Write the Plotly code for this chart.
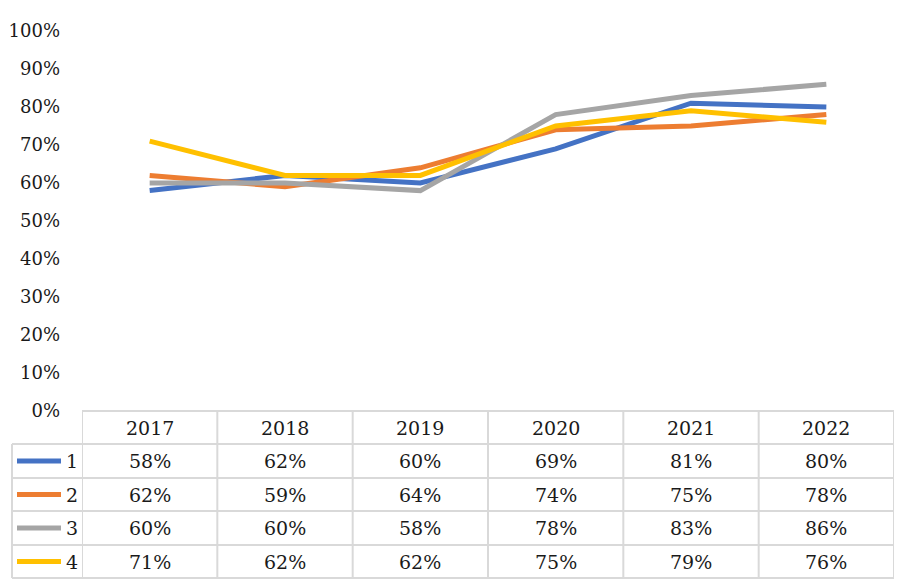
import plotly.graph_objects as go

years = ["2017", "2018", "2019", "2020", "2021", "2022"]
series_names = ["1", "2", "3", "4"]
s1 = [0.58, 0.62, 0.60, 0.69, 0.81, 0.80]
s2 = [0.62, 0.59, 0.64, 0.74, 0.75, 0.78]
s3 = [0.60, 0.60, 0.58, 0.78, 0.83, 0.86]
s4 = [0.71, 0.62, 0.62, 0.75, 0.79, 0.76]
colors = ["#4472C4", "#ED7D31", "#A5A5A5", "#FFC000"]
all_series = [s1, s2, s3, s4]

OFF = 8  # page body margin
W, H = 903 - OFF, 588 - OFF
SX0, SX1, SY0, SY1 = 82, 894, 31, 411
L, R, T, B = SX0 - OFF, W - (SX1 - OFF), SY0 - OFF, H - (SY1 - OFF)
pw = SX1 - SX0
ph = SY1 - SY0
FONT = "DejaVu Serif"
FS = 19
TICK_FS = 18
TXT = "#1a1a1a"
GRID = "#d9d9d9"


def px_x(x):
    return (x - SX0) / pw


def px_y(y):
    return (SY1 - y) / ph


fig = go.Figure()
for name, vals, c in zip(series_names, all_series, colors):
    fig.add_trace(go.Scatter(x=years, y=vals, mode="lines", name=name,
                             line=dict(color=c, width=5), showlegend=False))

shapes = []
annotations = []
row_edges = [411, 444, 478, 511, 545, 578]
left_px = 12
n = len(years)

shapes.append(dict(type="line", xref="paper", yref="paper", x0=0, x1=1,
                   y0=px_y(row_edges[0]), y1=px_y(row_edges[0]),
                   line=dict(color=GRID, width=2)))
for ry in row_edges[1:]:
    shapes.append(dict(type="line", xref="paper", yref="paper", x0=px_x(left_px), x1=1,
                       y0=px_y(ry), y1=px_y(ry), line=dict(color=GRID, width=2)))
shapes.append(dict(type="line", xref="paper", yref="paper", x0=px_x(left_px), x1=px_x(left_px),
                   y0=px_y(row_edges[1]), y1=px_y(row_edges[-1]), line=dict(color=GRID, width=2)))
for i in range(n + 1):
    shapes.append(dict(type="line", xref="x", yref="paper", x0=i - 0.5, x1=i - 0.5,
                       y0=px_y(row_edges[0]), y1=px_y(row_edges[-1]), line=dict(color=GRID, width=2)))

hc = (row_edges[0] + row_edges[1]) / 2
for i, yr in enumerate(years):
    annotations.append(dict(x=i, xref="x", y=px_y(hc), yref="paper", text=yr, showarrow=False,
                            font=dict(family=FONT, size=FS, color=TXT), xanchor="center", yanchor="middle"))

for r, (name, vals, c) in enumerate(zip(series_names, all_series, colors)):
    cy = (row_edges[r + 1] + row_edges[r + 2]) / 2
    shapes.append(dict(type="line", xref="paper", yref="paper", x0=px_x(17), x1=px_x(61),
                       y0=px_y(cy), y1=px_y(cy), line=dict(color=c, width=5)))
    annotations.append(dict(x=px_x(64), xref="paper", y=px_y(cy), yref="paper", text=name, showarrow=False,
                            font=dict(family=FONT, size=FS, color=TXT), xanchor="left", yanchor="middle"))
    for i, v in enumerate(vals):
        annotations.append(dict(x=i, xref="x", y=px_y(cy), yref="paper", text=f"{round(v*100)}%",
                                showarrow=False, font=dict(family=FONT, size=FS, color=TXT),
                                xanchor="center", yanchor="middle"))

fig.update_layout(
    width=W, height=H,
    margin=dict(l=L, r=R, t=T, b=B),
    paper_bgcolor="white", plot_bgcolor="white",
    font=dict(family=FONT, size=FS, color=TXT),
    xaxis=dict(type="category", range=[-0.5, n - 0.5], showticklabels=False, showgrid=False,
               zeroline=False, showline=False, ticks="", automargin=False),
    yaxis=dict(range=[0, 1], dtick=0.1, tickformat=".0%", showgrid=False, zeroline=False,
               showline=False, ticks="", ticklabelstandoff=21, automargin=False,
               tickfont=dict(family=FONT, size=TICK_FS, color=TXT)),
    shapes=shapes, annotations=annotations,
)

fig.write_html("out.html")
